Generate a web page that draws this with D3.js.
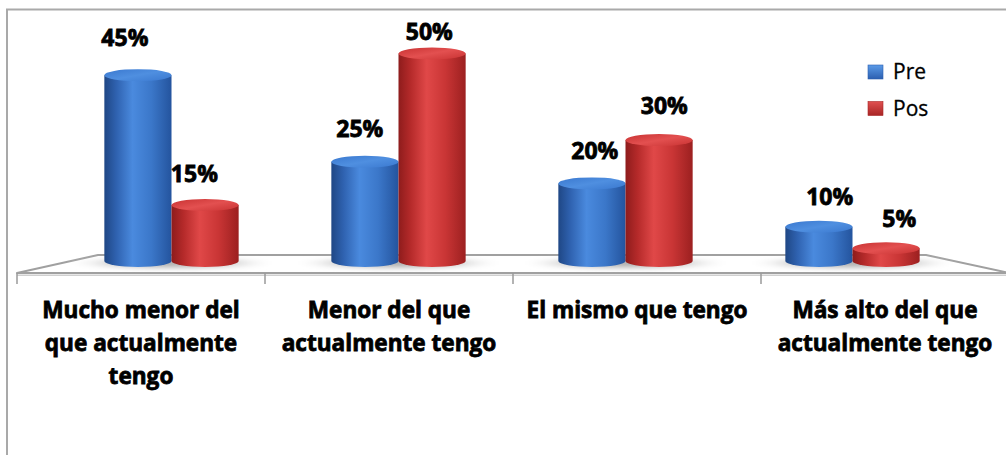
<!DOCTYPE html>
<html>
<head>
<meta charset="utf-8">
<script src="https://cdn.jsdelivr.net/npm/d3@7/dist/d3.min.js"></script>
<style>
  html, body { margin: 0; padding: 0; background: #ffffff; }
  svg { display: block; }
</style>
</head>
<body>
<svg id="chart" width="1006" height="455"></svg>
<script>
// ---- data ----
const categories = [
  "Mucho menor del que actualmente tengo",
  "Menor del que actualmente tengo",
  "El mismo que tengo",
  "Más alto del que actualmente tengo"
];
const categoryLines = [
  ["Mucho menor del", "que actualmente", "tengo"],
  ["Menor del que", "actualmente tengo"],
  ["El mismo que tengo"],
  ["Más alto del que", "actualmente tengo"]
];
const seriesNames = ["Pre", "Pos"];
const preValues = [45, 25, 20, 10];
const posValues = [15, 50, 30, 5];
const valueDomain = [0, 50];

const seriesValues = { Pre: preValues, Pos: posValues };

// ---- layout ----
const W = 1006, H = 455;
const floor = { frontY: 273, backY: 255, frontL: 17, frontR: 1009, backL: 98, backR: 926 };
const baseY = 261;         // centre of the cylinder bottoms on the floor
const ry = 6;              // ellipse half-height of cylinder caps
const perspectiveX = 511;  // horizontal vanishing reference for label shift

const svg = d3.select("#chart");
const defs = svg.append("defs");

// bars sit at mid depth of the floor
const x0 = d3.scaleBand().domain(categories).range([58, 966]).paddingInner(0).paddingOuter(0);
const x1 = d3.scaleBand().domain(seriesNames).range([0, x0.bandwidth()]).paddingInner(0).paddingOuter(0.69);
// category labels and ticks sit on the front edge
const xFront = d3.scaleBand().domain(categories).range([floor.frontL, floor.frontR]);
const y = d3.scaleLinear().domain(valueDomain).range([270, 53.5]);

const palette = {
  Pre: { body: ["#1f4785", "#2f62b0", "#4a8ade", "#3b77c9", "#24549e"], top: ["#3a78cf", "#4f8fe0"], legend: ["#2c5fb0", "#5b9be8"] },
  Pos: { body: ["#8e1c1c", "#b52a2a", "#e04848", "#c93535", "#9c2020"], top: ["#c83232", "#e35050"], legend: ["#a82525", "#e05050"] }
};

seriesNames.forEach(s => {
  const g = defs.append("linearGradient").attr("id", "body-" + s).attr("x1", "0").attr("x2", "1").attr("y1", "0").attr("y2", "0");
  const c = palette[s].body;
  [0, 0.18, 0.42, 0.7, 1].forEach((o, i) => g.append("stop").attr("offset", o).attr("stop-color", c[i]));
  const t = defs.append("linearGradient").attr("id", "top-" + s).attr("x1", "0").attr("x2", "1").attr("y1", "0").attr("y2", "1");
  t.append("stop").attr("offset", 0).attr("stop-color", palette[s].top[0]);
  t.append("stop").attr("offset", 0.5).attr("stop-color", palette[s].top[1]);
  t.append("stop").attr("offset", 1).attr("stop-color", palette[s].top[0]);
  const l = defs.append("linearGradient").attr("id", "leg-" + s).attr("x1", "0").attr("x2", "0").attr("y1", "0").attr("y2", "1");
  l.append("stop").attr("offset", 0).attr("stop-color", palette[s].legend[1]);
  l.append("stop").attr("offset", 1).attr("stop-color", palette[s].legend[0]);
});

const shadowGrad = defs.append("radialGradient").attr("id", "shadow");
shadowGrad.append("stop").attr("offset", 0).attr("stop-color", "#8f8f8f").attr("stop-opacity", 0.85);
shadowGrad.append("stop").attr("offset", 0.6).attr("stop-color", "#b5b5b5").attr("stop-opacity", 0.55);
shadowGrad.append("stop").attr("offset", 1).attr("stop-color", "#ffffff").attr("stop-opacity", 0);
defs.append("filter").attr("id", "soft").append("feGaussianBlur").attr("stdDeviation", 2);

// ---- chart frame ----
svg.append("path")
  .attr("d", `M7,${H} L7,9.5 L${W},9.5`)
  .attr("fill", "none").attr("stroke", "#a9a9a9").attr("stroke-width", 2);

// ---- floor ----
svg.append("path")
  .attr("d", `M${floor.frontL},${floor.frontY} L${floor.backL},${floor.backY} L${floor.backR},${floor.backY} L${floor.frontR},${floor.frontY} Z`)
  .attr("fill", "#ffffff").attr("stroke", "#a0a0a0").attr("stroke-width", 2).attr("stroke-linejoin", "round");
svg.append("line")
  .attr("x1", floor.frontL).attr("x2", floor.frontR).attr("y1", floor.frontY + 2.2).attr("y2", floor.frontY + 2.2)
  .attr("stroke", "#d0d0d0").attr("stroke-width", 1.5);

// category ticks on the front edge
const tickXs = categories.map(c => xFront(c));
svg.append("g").selectAll("line").data(tickXs).join("line")
  .attr("x1", d => d).attr("x2", d => d)
  .attr("y1", floor.frontY).attr("y2", floor.frontY + 11)
  .attr("stroke", "#9a9a9a").attr("stroke-width", 1.5);

// shadows under each pair of cylinders
svg.append("g").selectAll("ellipse").data(categories).join("ellipse")
  .attr("cx", c => x0(c) + x0.bandwidth() / 2)
  .attr("cy", baseY + 2)
  .attr("rx", x1.bandwidth() * 1.6)
  .attr("ry", 8)
  .attr("fill", "url(#shadow)")
  .attr("filter", "url(#soft)");

// ---- cylinders ----
const bars = [];
categories.forEach((c, i) => {
  seriesNames.forEach(s => {
    bars.push({ cat: c, series: s, value: seriesValues[s][i] });
  });
});

const barG = svg.append("g");
const rx = x1.bandwidth() / 2;
bars.forEach(d => {
  const xl = x0(d.cat) + x1(d.series);
  const xr = xl + x1.bandwidth();
  const cx = (xl + xr) / 2;
  const yt = y(d.value);
  const g = barG.append("g");
  g.append("path")
    .attr("d", `M${xl},${yt} L${xl},${baseY} A${rx},${ry} 0 0 0 ${xr},${baseY} L${xr},${yt} Z`)
    .attr("fill", `url(#body-${d.series})`);
  g.append("ellipse")
    .attr("cx", cx).attr("cy", yt).attr("rx", rx).attr("ry", ry)
    .attr("fill", `url(#top-${d.series})`);
  d.cx = cx;
  d.yt = yt;
});

// ---- value labels ----
const labelFont = "'Open Sans', 'DejaVu Sans', sans-serif";
svg.append("g").selectAll("text").data(bars).join("text")
  .attr("x", d => d.cx + (d.cx - perspectiveX) * 0.035)
  .attr("y", d => Math.max(40, d.yt - 20 - 0.2 * d.value))
  .attr("text-anchor", "middle")
  .attr("font-family", labelFont)
  .attr("font-weight", 700)
  .attr("font-size", 23)
  .attr("fill", "#000")
  .attr("stroke", "#000").attr("stroke-width", 0.8)
  .text(d => d.value + "%");

// ---- category labels ----
const catG = svg.append("g");
categories.forEach((c, i) => {
  const t = catG.append("text")
    .attr("x", xFront(c) + xFront.bandwidth() / 2)
    .attr("y", 318)
    .attr("text-anchor", "middle")
    .attr("font-family", labelFont)
    .attr("font-weight", 700)
    .attr("font-size", 22.6)
    .attr("fill", "#000")
    .attr("stroke", "#000").attr("stroke-width", 0.8);
  categoryLines[i].forEach((line, k) => {
    t.append("tspan")
      .attr("x", xFront(c) + xFront.bandwidth() / 2)
      .attr("dy", k === 0 ? 0 : 33)
      .text(line);
  });
});

// ---- legend ----
const legend = svg.append("g").attr("transform", "translate(868,65)");
seriesNames.forEach((s, i) => {
  const row = legend.append("g").attr("transform", `translate(0,${i * 36.5})`);
  row.append("rect").attr("width", 15).attr("height", 14)
    .attr("fill", `url(#leg-${s})`).attr("stroke", palette[s].legend[0]).attr("stroke-width", 0.6);
  row.append("text").attr("x", 25).attr("y", 14)
    .attr("font-family", labelFont).attr("font-size", 21).attr("fill", "#000")
    .attr("stroke", "#000").attr("stroke-width", 0.3)
    .text(s);
});
</script>
</body>
</html>
